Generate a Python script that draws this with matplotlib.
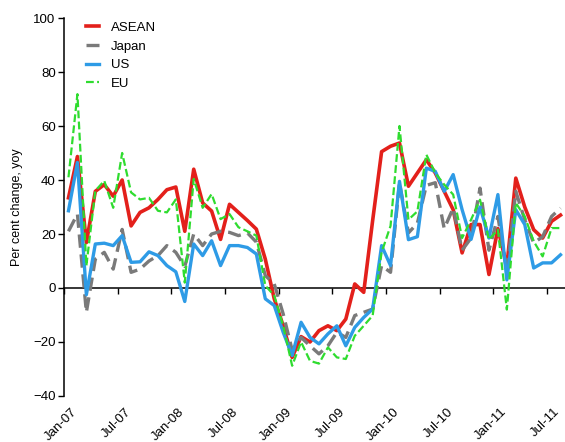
import numpy as np
import matplotlib
matplotlib.use('Agg')
import matplotlib.pyplot as plt
from matplotlib.transforms import ScaledTranslation

plt.rcParams['font.family'] = ['Liberation Sans', 'DejaVu Sans']

# Monthly export growth, Jan-07 .. Aug-11 (per cent change, yoy)
asean = [33.4, 48.7, 16.8, 35.8, 38.3, 34.0, 40.0, 23.0, 28.0, 29.7,
         32.8, 36.4, 37.4, 21.0, 44.0, 31.5, 28.5, 18.0, 31.0, 28.0,
         25.0, 21.8, 10.7, -4.0, -14.0, -25.7, -18.0, -20.0, -15.8, -14.0,
         -15.8, -11.5, 1.5, -1.6, 25.0, 50.5, 52.5, 53.7, 37.7, 42.6,
         47.5, 42.6, 35.8, 29.0, 13.0, 23.5, 23.5, 5.0, 22.0, 8.0,
         40.7, 30.0, 21.6, 18.5, 24.7, 27.0]
japan = [21.0, 27.4, -9.0, 10.7, 13.2, 7.0, 21.7, 5.8, 7.0, 10.0,
         12.0, 15.7, 13.2, 8.0, 20.0, 15.7, 20.0, 21.0, 20.6, 19.4,
         20.4, 17.0, 4.6, 1.5, -9.6, -23.0, -18.3, -21.4, -24.4, -21.4,
         -16.4, -18.3, -10.2, -9.0, -7.8, 8.3, 5.8, 39.0, 20.4, 24.0,
         38.0, 39.0, 22.0, 29.6, 14.0, 18.5, 37.0, 14.0, 26.5, 6.0,
         35.8, 25.3, 16.7, 19.0, 26.5, 29.6]
us = [28.6, 46.5, -2.5, 16.3, 16.6, 15.7, 19.4, 9.5, 9.7, 13.4,
      12.0, 8.3, 6.0, -5.0, 16.3, 12.0, 17.5, 8.3, 15.7, 15.7,
      15.0, 12.6, -4.0, -6.5, -16.4, -25.0, -12.7, -18.3, -20.7, -17.0,
      -14.0, -21.4, -14.6, -10.9, -7.8, 15.7, 8.3, 39.5, 17.9, 19.0,
      44.4, 43.2, 35.8, 42.0, 29.0, 18.0, 30.0, 18.5, 34.6, 3.0,
      29.0, 23.5, 7.4, 9.3, 9.3, 12.3]
eu = [41.0, 71.8, 8.3, 36.0, 39.7, 29.7, 50.0, 35.4, 32.8, 33.4,
      28.6, 28.0, 32.8, 2.0, 40.4, 29.7, 34.8, 25.5, 27.4, 22.5,
      21.0, 19.4, 0.9, -2.8, -14.0, -28.8, -20.0, -27.0, -28.0, -22.0,
      -25.7, -26.3, -17.7, -14.0, -10.2, 13.2, 23.0, 60.0, 25.3, 28.4,
      49.4, 42.6, 38.3, 34.6, 18.5, 25.3, 32.7, 17.9, 21.6, -8.0,
      31.5, 26.5, 17.3, 11.7, 22.2, 22.2]

tick_labels = ['Jan-07', 'Jul-07', 'Jan-08', 'Jul-08', 'Jan-09',
               'Jul-09', 'Jan-10', 'Jul-10', 'Jan-11', 'Jul-11']

x = np.arange(len(asean))

fig = plt.figure(figsize=(5.65, 4.42), dpi=100)
ax = fig.add_axes([64 / 565, 46 / 442, 501 / 565, 378 / 442])

ax.plot(x, asean, color='#e3201b', lw=2.6, label='ASEAN', zorder=3)
ax.plot(x, japan, color='#7a7a7a', lw=2.4, dashes=(4, 2), label='Japan', zorder=4)
ax.plot(x, us, color='#2e9be6', lw=2.4, label='US', zorder=5)
ax.plot(x, eu, color='#2fdc2f', lw=1.6, dashes=(3.5, 1.5), label='EU', zorder=6)

ax.set_xlim(-0.5, len(x) - 0.5)
ax.set_ylim(-40, 100)
ax.set_yticks(np.arange(-40, 101, 20))
ax.tick_params(axis='y', direction='out', length=4, width=1, labelsize=9.5, pad=2)

# x axis line sits at zero, labels stay at the bottom
ax.spines['bottom'].set_position(('data', 0))
ax.spines['top'].set_visible(False)
ax.spines['right'].set_visible(False)
ax.spines['left'].set_linewidth(1.1)
ax.spines['bottom'].set_linewidth(1.1)
ax.set_xticks(np.arange(-0.5, len(x), 6))
ax.tick_params(axis='x', direction='out', length=4, width=1, labelbottom=False)

sec = ax.secondary_xaxis('bottom')
sec.set_xticks(np.arange(-0.5, len(x), 6))
sec.set_xticklabels(tick_labels, rotation=45, ha='right', rotation_mode='anchor')
sec.tick_params(axis='x', length=0, labelsize=9.5, pad=7)
sec.spines['bottom'].set_visible(False)
# nudge the slanted labels a little to the right
shift = ScaledTranslation(5 / 72, 0, fig.dpi_scale_trans)
for lbl in sec.get_xticklabels():
    lbl.set_transform(lbl.get_transform() + shift)

ax.set_ylabel('Per cent change, yoy', fontsize=9, labelpad=7)

ax.legend(loc='upper left', bbox_to_anchor=(0.044, 0.99), frameon=False,
          fontsize=9.5, handlelength=1.0, handletextpad=0.9,
          borderpad=0, borderaxespad=0, labelspacing=0.48)

fig.savefig('out.png', dpi=100)
